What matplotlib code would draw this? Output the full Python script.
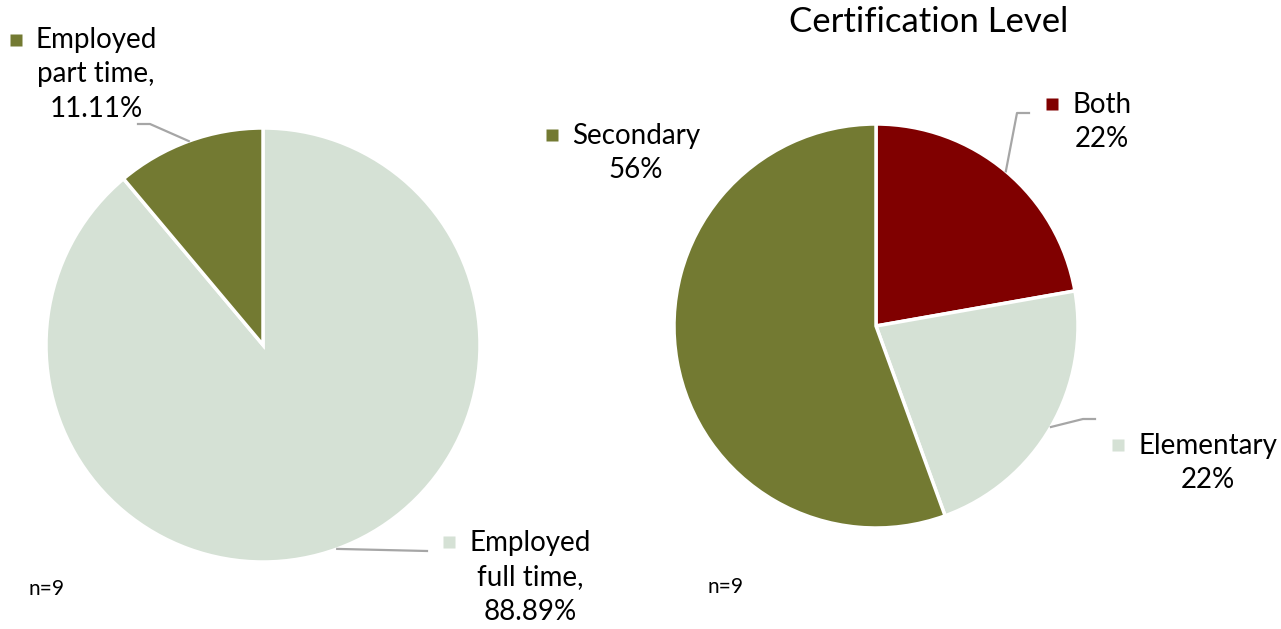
import numpy as np
import matplotlib
matplotlib.use("Agg")
import matplotlib.pyplot as plt

plt.rcParams['font.family'] = ['Lato', 'DejaVu Sans']

# data
emp_labels = ['Employed\nfull time,', 'Employed\npart time,']
emp_counts = [8, 1]
emp_colors = ['#D5E1D5', '#737A32']

cert_labels = ['Both', 'Elementary', 'Secondary']
cert_counts = [2, 2, 5]
cert_colors = ['#800000', '#D5E1D5', '#737A32']

n_total = 9

W, H = 1281, 629
fig = plt.figure(figsize=(W / 100, H / 100), dpi=100)


def pie_axes(cx, cy, r):
    ax = fig.add_axes([(cx - r) / W, (H - cy - r) / H, 2 * r / W, 2 * r / H])
    ax.axis('off')
    return ax


def fix_limits(ax):
    ax.set_xlim(-1, 1)
    ax.set_ylim(-1, 1)
    ax.set_aspect('equal')


def to_data(px, py, cx, cy, r):
    return (px - cx) / r, (cy - py) / r


def label(ax, wedge, text, color, elbow, end, mark, txt, geo):
    cx, cy, r = geo
    ang = np.deg2rad((wedge.theta1 + wedge.theta2) / 2)
    ex, ey = np.cos(ang), np.sin(ang)
    bx, by = to_data(*elbow, cx, cy, r)
    tx, ty = to_data(*end, cx, cy, r)
    ax.plot([ex, bx, tx], [ey, by, ty], color='#A6A6A6', lw=1.6, clip_on=False)
    mx, my = to_data(*mark, cx, cy, r)
    ax.plot(mx, my, marker='s', ms=8.5, color=color, clip_on=False, mec='none')
    px, py = to_data(*txt, cx, cy, r)
    ax.text(px, py, text, ha='center', va='top', fontsize=20,
            linespacing=1.4, clip_on=False)


# left pie
g1 = (263, 345, 217)
ax1 = pie_axes(*g1)
w1, _ = ax1.pie(emp_counts, colors=emp_colors, startangle=90, counterclock=False,
                radius=1, wedgeprops=dict(edgecolor='white', linewidth=2.5))
fix_limits(ax1)
pcts1 = [c / sum(emp_counts) * 100 for c in emp_counts]
label(ax1, w1[1], f'{emp_labels[1]}\n{pcts1[1]:.2f}%', emp_colors[1],
      (150, 124), (138, 124), (15.5, 40), (96, 27), g1)
label(ax1, w1[0], f'{emp_labels[0]}\n{pcts1[0]:.2f}%', emp_colors[0],
      (427, 551), (427, 551), (449, 542), (530, 530), g1)

# right pie
g2 = (876, 326, 202)
ax2 = pie_axes(*g2)
w2, _ = ax2.pie(cert_counts, colors=cert_colors, startangle=90, counterclock=False,
                radius=1, wedgeprops=dict(edgecolor='white', linewidth=2.5))
fix_limits(ax2)
pcts2 = [c / sum(cert_counts) * 100 for c in cert_counts]
label(ax2, w2[0], f'{cert_labels[0]}\n{pcts2[0]:.0f}%', cert_colors[0],
      (1017, 113), (1029, 113), (1052, 104), (1102, 92), g2)
label(ax2, w2[1], f'{cert_labels[1]}\n{pcts2[1]:.0f}%', cert_colors[1],
      (1083, 419), (1095, 419), (1117.5, 445), (1208, 433), g2)
# secondary label has no leader line
sx, sy = to_data(551.5, 135, *g2)
ax2.plot(sx, sy, marker='s', ms=8.5, color=cert_colors[2], clip_on=False, mec='none')
tx, ty = to_data(636, 123, *g2)
ax2.text(tx, ty, f'{cert_labels[2]}\n{pcts2[2]:.0f}%', ha='center', va='top',
         fontsize=20, linespacing=1.4, clip_on=False)

fig.text(929 / W, 1 - 22 / H, 'Certification Level', ha='center', va='center', fontsize=25)
fig.text(28 / W, 1 - 595 / H, f'n={n_total}', ha='left', va='baseline', fontsize=15)
fig.text(708 / W, 1 - 593 / H, f'n={n_total}', ha='left', va='baseline', fontsize=15)

fig.savefig('out.png', dpi=100)
